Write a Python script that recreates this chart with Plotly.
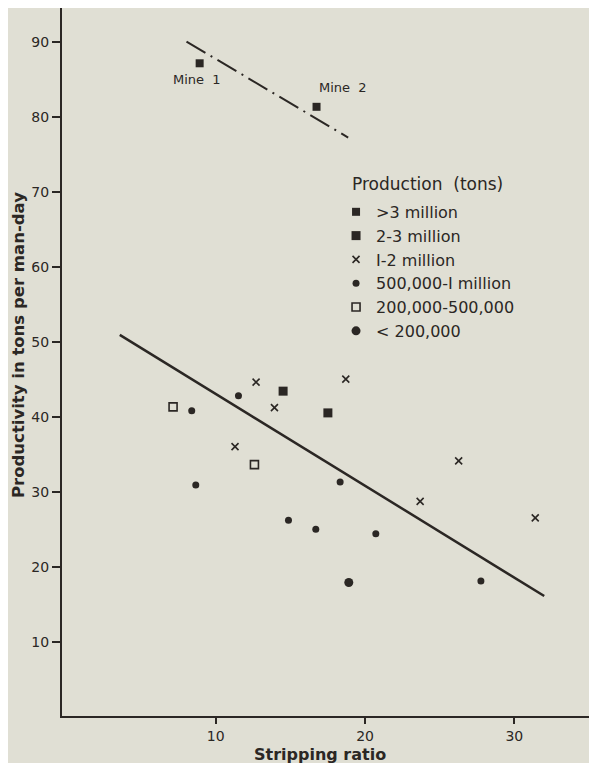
import plotly.graph_objects as go

# ---- data ----
mine_x = [8.92, 16.75]
mine_y = [87.2, 81.4]
mine_labels = ["Mine  1", "Mine  2"]

sq23_x = [14.51, 17.51]
sq23_y = [43.5, 40.6]

cross_x = [12.70, 13.93, 18.71, 11.29, 26.27, 23.69, 31.40]
cross_y = [44.7, 41.3, 45.1, 36.1, 34.2, 28.8, 26.6]

dot_x = [8.39, 11.52, 8.66, 18.33, 14.87, 16.70, 20.72, 27.76]
dot_y = [40.9, 42.9, 31.0, 31.4, 26.3, 25.1, 24.5, 18.2]

open_x = [7.14, 12.59]
open_y = [41.4, 33.7]

small_x = [18.91]
small_y = [18.0]

trend_x = [3.57, 32.0]
trend_y = [51.0, 16.2]

mine_trend_x = [8.04, 18.87]
mine_trend_y = [90.1, 77.3]

x_ticks = [10, 20, 30]
y_ticks = [10, 20, 30, 40, 50, 60, 70, 80, 90]

INK = "#2b2724"
BG = "#e0dfd4"
FONT = "DejaVu Sans"

fig = go.Figure()

fig.add_trace(go.Scatter(x=trend_x, y=trend_y, mode="lines",
                         line=dict(color=INK, width=2.5), showlegend=False, hoverinfo="skip"))
fig.add_trace(go.Scatter(x=mine_trend_x, y=mine_trend_y, mode="lines",
                         line=dict(color=INK, width=2, dash="22px,6px,2px,6px"),
                         showlegend=False, hoverinfo="skip"))

fig.add_trace(go.Scatter(x=mine_x, y=mine_y, mode="markers", name=">3 million",
                         marker=dict(symbol="square", size=8, color=INK)))
fig.add_trace(go.Scatter(x=sq23_x, y=sq23_y, mode="markers", name="2-3 million",
                         marker=dict(symbol="square", size=9, color=INK)))
fig.add_trace(go.Scatter(x=cross_x, y=cross_y, mode="markers", name="I-2 million",
                         marker=dict(symbol="x-thin", size=7, color=INK,
                                     line=dict(color=INK, width=1.6))))
fig.add_trace(go.Scatter(x=dot_x, y=dot_y, mode="markers", name="500,000-I million",
                         marker=dict(symbol="circle", size=7, color=INK)))
fig.add_trace(go.Scatter(x=open_x, y=open_y, mode="markers", name="200,000-500,000",
                         marker=dict(symbol="square-open", size=8, color=INK,
                                     line=dict(color=INK, width=1.6))))
fig.add_trace(go.Scatter(x=small_x, y=small_y, mode="markers", name="< 200,000",
                         marker=dict(symbol="circle", size=9, color=INK)))

annotations = []
shifts = [(-3, -16), (26, 19)]
for mx, my, lab, (dx, dy) in zip(mine_x, mine_y, mine_labels, shifts):
    annotations.append(dict(x=mx, y=my, xref="x", yref="y", text=lab, showarrow=False,
                            xshift=dx, yshift=dy, font=dict(family=FONT, size=13, color=INK)))

annotations.append(dict(x=0.5465, y=0.7514, xref="paper", yref="paper",
                        text="Production  (tons)", showarrow=False,
                        xanchor="left", yanchor="middle",
                        font=dict(family=FONT, size=17, color=INK)))
annotations.append(dict(x=-0.0835, y=0.524, xref="paper", yref="paper",
                        text="<b>Productivity in tons per man-day</b>", showarrow=False,
                        textangle=-90, xanchor="center", yanchor="middle",
                        font=dict(family=FONT, size=16.5, color=INK)))
annotations.append(dict(x=0.489, y=-0.0537, xref="paper", yref="paper",
                        text="<b>Stripping ratio</b>", showarrow=False,
                        xanchor="center", yanchor="middle",
                        font=dict(family=FONT, size=16, color=INK)))

fig.update_layout(
    width=589, height=755,
    margin=dict(l=54, r=8, t=0, b=47),
    paper_bgcolor=BG, plot_bgcolor=BG,
    font=dict(family=FONT, color=INK),
    annotations=annotations,
    legend=dict(x=0.520, y=0.736, xanchor="left", yanchor="top",
                bgcolor="rgba(0,0,0,0)", font=dict(family=FONT, size=16, color=INK),
                itemsizing="trace", tracegroupgap=0),
    xaxis=dict(range=[-0.3, 35], tickvals=x_ticks, ticktext=[str(v) for v in x_ticks],
               ticks="outside", ticklen=6, tickwidth=1.5, tickcolor=INK,
               showline=True, mirror=True, linewidth=2, linecolor=INK,
               showgrid=False, zeroline=False, automargin=False,
               tickfont=dict(family=FONT, size=14, color=INK)),
    yaxis=dict(range=[0.2, 94.57], tickvals=y_ticks, ticktext=[str(v) for v in y_ticks],
               ticks="outside", ticklen=8, tickwidth=1.5, tickcolor=INK,
               showline=True, mirror=True, linewidth=2, linecolor=INK,
               showgrid=False, zeroline=False, automargin=False,
               tickfont=dict(family=FONT, size=14, color=INK)),
)

fig.write_html("out.html")
